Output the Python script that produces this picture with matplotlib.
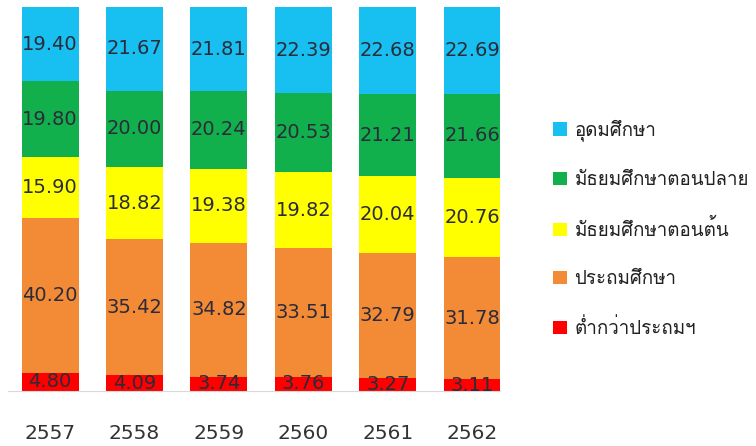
import matplotlib
matplotlib.use("Agg")
import matplotlib.pyplot as plt
from matplotlib import font_manager
from matplotlib.patches import Patch
from matplotlib.ft2font import FT2Font

years = ["2557", "2558", "2559", "2560", "2561", "2562"]
below_primary = [4.80, 4.09, 3.74, 3.76, 3.27, 3.11]
primary = [40.20, 35.42, 34.82, 33.51, 32.79, 31.78]
lower_secondary = [15.90, 18.82, 19.38, 19.82, 20.04, 20.76]
upper_secondary = [19.80, 20.00, 20.24, 20.53, 21.21, 21.66]
higher = [19.40, 21.67, 21.81, 22.39, 22.68, 22.69]

series_names = ["ต่ำกว่าประถมฯ", "ประถมศึกษา", "มัธยมศึกษาตอนต้น",
                "มัธยมศึกษาตอนปลาย", "อุดมศึกษา"]
series_values = [below_primary, primary, lower_secondary, upper_secondary, higher]
colors = ["#FF0000", "#F28A36", "#FFFF00", "#12B04C", "#18BFF1"]

# find a font with Thai glyphs
thai_family = None
for fe in font_manager.fontManager.ttflist:
    try:
        f = FT2Font(fe.fname)
        cm = f.get_charmap()
        if 0x0E2D in cm and 0x0E28 in cm:
            thai_family = fe.name
            break
    except Exception:
        pass
fam = ["DejaVu Sans"]
if thai_family:
    fam = [thai_family, "DejaVu Sans"]

fig = plt.figure(figsize=(7.56, 4.46), dpi=100)
ax = fig.add_axes([8/756, 55/446, 492/756, 384/446])

x = list(range(len(years)))
bottom = [0.0]*len(years)
for vals, col in zip(series_values, colors):
    ax.bar(x, vals, bottom=bottom, color=col, width=0.675)
    for xi, v, b in zip(x, vals, bottom):
        ax.text(xi, b + v/2, f"{v:.2f}", ha="center", va="center",
                fontsize=14, color="#2b2b3a", family="DejaVu Sans")
    bottom = [b + v for b, v in zip(bottom, vals)]

ax.set_xlim(-0.498, 5.33)
ax.set_ylim(0, 100.1)
for s in ["top", "right", "left"]:
    ax.spines[s].set_visible(False)
ax.spines["bottom"].set_color("#d9d9d9")
ax.set_yticks([])
ax.set_xticks(x)
ax.set_xticklabels(years, fontsize=14.5, color="#333333")
ax.tick_params(axis="x", length=0, pad=24)

handles = [Patch(facecolor=c, edgecolor="none") for c in colors][::-1]
labels = series_names[::-1]
fig.legend(handles, labels, loc="center left", bbox_to_anchor=(553/756, 217.5/446),
           frameon=False, borderpad=0, borderaxespad=0,
           prop={"family": fam, "size": 13.5},
           handlelength=0.75, handleheight=0.75, handletextpad=0.4, labelspacing=1.6,
           labelcolor="#222222")

fig.savefig("out.png", dpi=100)
